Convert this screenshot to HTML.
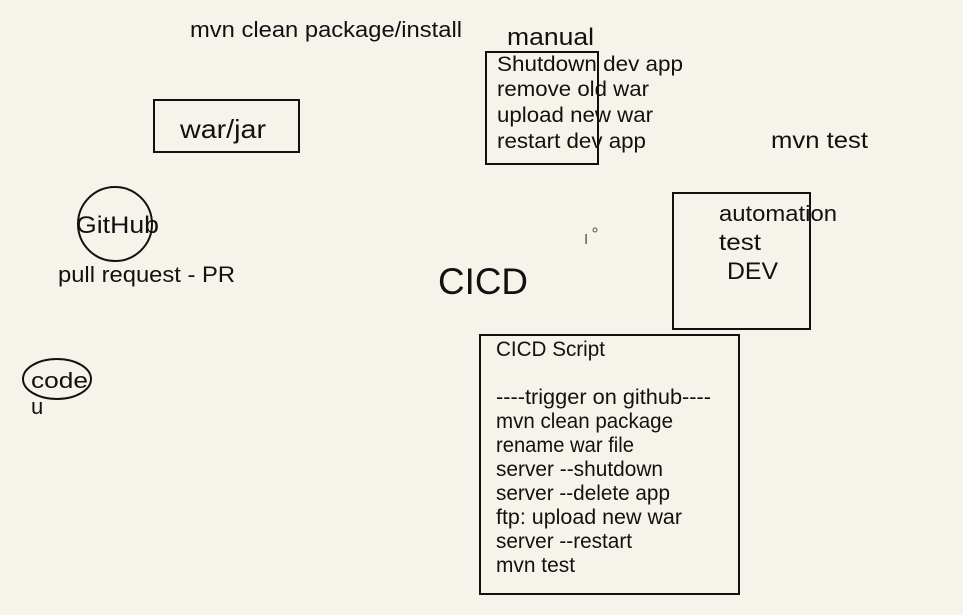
<!DOCTYPE html>
<html><head><meta charset="utf-8"><style>html,body{margin:0;padding:0;background:#f6f3ea;}svg{display:block}</style></head>
<body>
<svg width="963" height="615" viewBox="0 0 963 615" xmlns="http://www.w3.org/2000/svg" font-family="Liberation Sans, sans-serif" fill="#111">
<rect width="963" height="615" fill="#f6f3ea"/>
<g fill="none" stroke="#111" stroke-width="2">
<rect x="154" y="100" width="145" height="52"/>
<circle cx="115" cy="224" r="37"/>
<ellipse cx="57" cy="379" rx="34" ry="20"/>
<rect x="486" y="52" width="112" height="112"/>
<rect x="673" y="193" width="137" height="136"/>
<rect x="480" y="335" width="259" height="259"/>
</g>
<g lengthAdjust="spacingAndGlyphs">
<text x="190" y="37" font-size="22" textLength="272" lengthAdjust="spacingAndGlyphs">mvn clean package/install</text>
<text x="180" y="138" font-size="26" textLength="86" lengthAdjust="spacingAndGlyphs">war/jar</text>
<text x="76" y="233" font-size="24" textLength="83" lengthAdjust="spacingAndGlyphs">GitHub</text>
<text x="58" y="282" font-size="22" textLength="177" lengthAdjust="spacingAndGlyphs">pull request - PR</text>
<text x="31" y="388" font-size="22" textLength="57" lengthAdjust="spacingAndGlyphs">code</text>
<text x="31" y="414" font-size="22">u</text>
<text x="507" y="45" font-size="24" textLength="87" lengthAdjust="spacingAndGlyphs">manual</text>
<text x="497" y="71" font-size="21" textLength="186" lengthAdjust="spacingAndGlyphs">Shutdown dev app</text>
<text x="497" y="96" font-size="21" textLength="152" lengthAdjust="spacingAndGlyphs">remove old war</text>
<text x="497" y="122" font-size="21" textLength="156" lengthAdjust="spacingAndGlyphs">upload new war</text>
<text x="497" y="148" font-size="21" textLength="149" lengthAdjust="spacingAndGlyphs">restart dev app</text>
<text x="771" y="148" font-size="23" textLength="97" lengthAdjust="spacingAndGlyphs">mvn test</text>
<text x="719" y="221" font-size="22" textLength="118" lengthAdjust="spacingAndGlyphs">automation</text>
<text x="719" y="250" font-size="23" textLength="42" lengthAdjust="spacingAndGlyphs">test</text>
<text x="727" y="279" font-size="24" textLength="51" lengthAdjust="spacingAndGlyphs">DEV</text>
<text x="438" y="294" font-size="37" textLength="90" lengthAdjust="spacingAndGlyphs">CICD</text>
</g>
<text x="584" y="244" font-size="15" fill="#555">I</text>
<circle cx="595" cy="230" r="2" fill="none" stroke="#555" stroke-width="1"/>
<g font-size="21">
<text x="496" y="356" textLength="109" lengthAdjust="spacingAndGlyphs">CICD Script</text>
<text x="496" y="404" textLength="215" lengthAdjust="spacingAndGlyphs">----trigger on github----</text>
<text x="496" y="428" textLength="177" lengthAdjust="spacingAndGlyphs">mvn clean package</text>
<text x="496" y="452" textLength="138" lengthAdjust="spacingAndGlyphs">rename war file</text>
<text x="496" y="476" textLength="167" lengthAdjust="spacingAndGlyphs">server --shutdown</text>
<text x="496" y="500" textLength="174" lengthAdjust="spacingAndGlyphs">server --delete app</text>
<text x="496" y="524" textLength="186" lengthAdjust="spacingAndGlyphs">ftp: upload new war</text>
<text x="496" y="548" textLength="136" lengthAdjust="spacingAndGlyphs">server --restart</text>
<text x="496" y="572" textLength="79" lengthAdjust="spacingAndGlyphs">mvn test</text>
</g>
</svg>
</body></html>
